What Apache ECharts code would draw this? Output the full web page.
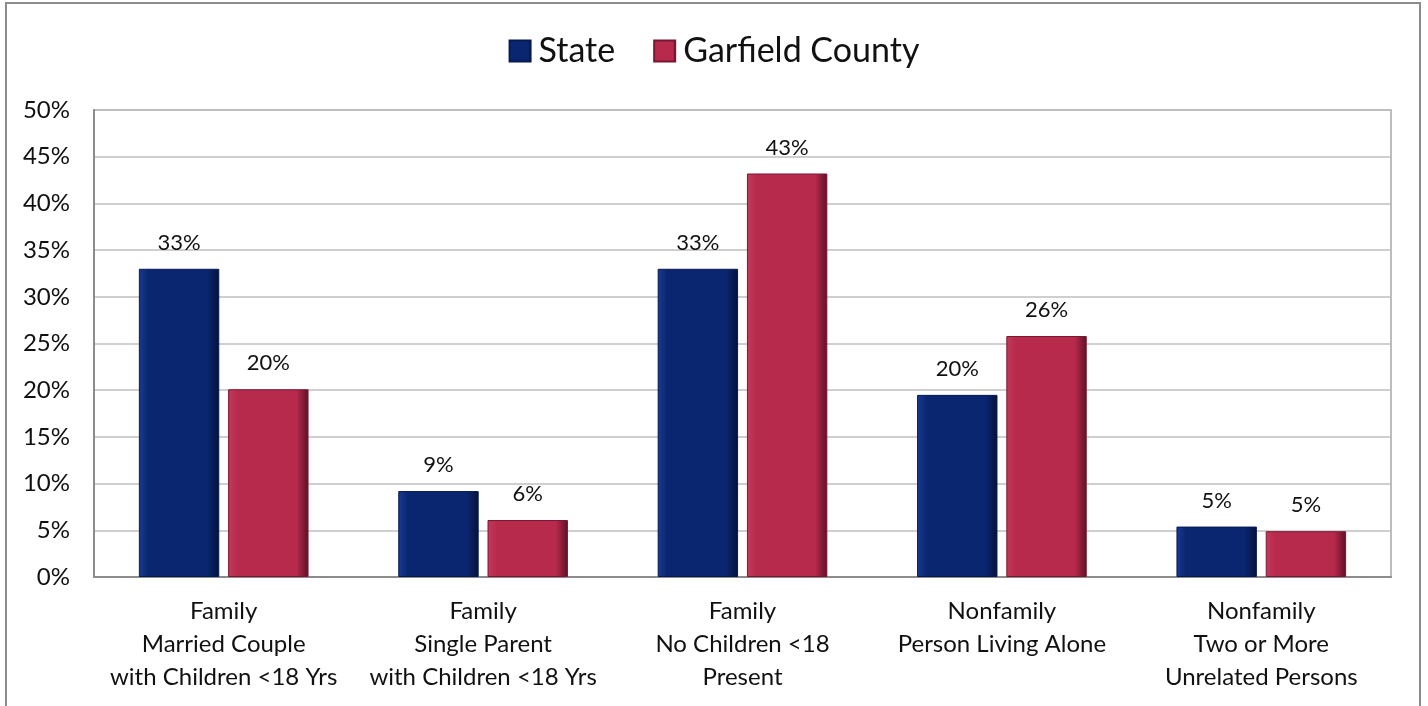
<!DOCTYPE html>
<html>
<head>
<meta charset="utf-8">
<script src="https://cdn.jsdelivr.net/npm/echarts@6/dist/echarts.min.js"></script>
<style>
  html, body { margin: 0; padding: 0; background: #fff; }
  #chart { width: 1428px; height: 706px; }
</style>
</head>
<body>
<div id="chart"></div>
<script>
// Household types: share of households, state vs. county
const categories = [
  'Family\nMarried Couple\nwith Children <18 Yrs',
  'Family\nSingle Parent\nwith Children <18 Yrs',
  'Family\nNo Children <18\nPresent',
  'Nonfamily\nPerson Living Alone',
  'Nonfamily\nTwo or More\nUnrelated Persons'
];
const stateValues = [33.0, 9.2, 33.0, 19.5, 5.4];
const countyValues = [20.1, 6.1, 43.2, 25.8, 4.9];
const seriesNames = ['State', 'Garfield County'];

const FONT = 'Lato, "Open Sans", sans-serif';

function bevel(edge, mid, dark) {
  return new echarts.graphic.LinearGradient(0, 0, 1, 0, [
    { offset: 0, color: edge },
    { offset: 0.12, color: mid },
    { offset: 0.85, color: mid },
    { offset: 1, color: dark }
  ]);
}

const chart = echarts.init(document.getElementById('chart'), null, { renderer: 'canvas' });

const labelStyle = {
  show: true,
  position: 'top',
  distance: 15,
  fontFamily: FONT,
  fontSize: 22,
  color: '#111',
  formatter: p => Math.round(p.value) + '%'
};

chart.setOption({
  animation: false,
  backgroundColor: '#fff',
  graphic: [{
    type: 'rect',
    shape: { x: 6, y: 3, width: 1414, height: 720 },
    style: { fill: 'none', stroke: '#8c8c8c', lineWidth: 2 },
    silent: true,
    z: 0
  }],
  legend: {
    top: 29,
    left: 'center',
    icon: 'rect',
    itemWidth: 21,
    itemHeight: 21,
    itemGap: 38,
    textStyle: { fontFamily: FONT, fontSize: 34, color: '#111', padding: [0, 0, 0, 3] },
    data: seriesNames
  },
  grid: {
    left: 94,
    right: 37,
    top: 110,
    bottom: 129,
    show: true,
    borderColor: '#a6a6a6',
    borderWidth: 1.5,
    containLabel: false
  },
  xAxis: {
    type: 'category',
    data: categories,
    axisLine: { lineStyle: { color: '#8c8c8c', width: 2 } },
    axisTick: { show: false },
    axisLabel: {
      fontFamily: FONT,
      fontSize: 24,
      color: '#111',
      lineHeight: 33,
      margin: 18,
      interval: 0
    }
  },
  yAxis: {
    type: 'value',
    min: 0,
    max: 50,
    interval: 5,
    axisLine: { show: true, lineStyle: { color: '#8c8c8c', width: 2 } },
    axisTick: { show: false },
    splitLine: { lineStyle: { color: '#bfbfbf', width: 1.5 } },
    axisLabel: {
      fontFamily: FONT,
      fontSize: 24,
      color: '#111',
      margin: 24,
      formatter: v => v + '%'
    }
  },
  series: [
    {
      name: seriesNames[0],
      type: 'bar',
      data: stateValues,
      barWidth: '31%',
      barGap: '11%',
      itemStyle: {
        color: bevel('#1a3a90', '#0b2670', '#04123a'),
        borderColor: '#061a52',
        borderWidth: 1
      },
      label: labelStyle
    },
    {
      name: seriesNames[1],
      type: 'bar',
      data: countyValues,
      barWidth: '31%',
      itemStyle: {
        color: bevel('#c23a5c', '#b72a4c', '#5e1024'),
        borderColor: '#7a1630',
        borderWidth: 1
      },
      label: labelStyle
    }
  ]
});
</script>
</body>
</html>
